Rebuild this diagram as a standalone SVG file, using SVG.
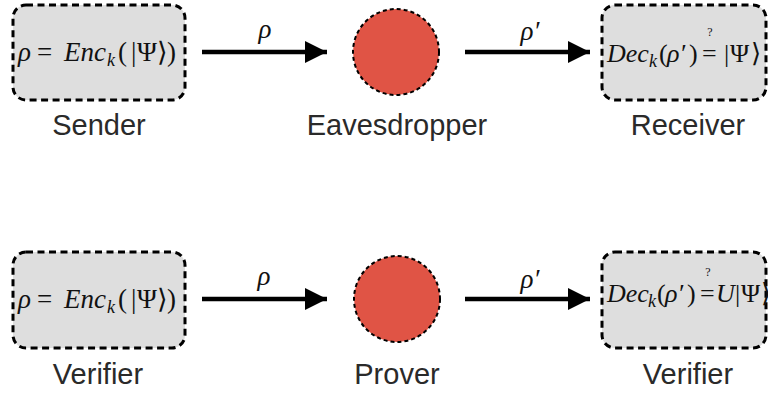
<svg xmlns="http://www.w3.org/2000/svg" width="768" height="393" viewBox="0 0 768 393">
<style>
.box{fill:#dedede;stroke:#000;stroke-width:3;stroke-dasharray:7 4.5}
.circ{fill:#e05445;stroke:#000;stroke-width:2;stroke-dasharray:4 3}
.lbl{font-family:"Liberation Sans","Helvetica",Arial,sans-serif;font-size:29px;fill:#2a2a2a;text-anchor:middle}
.m{font-family:"Liberation Serif","DejaVu Serif",serif;font-size:27px;fill:#111}
.mr{font-family:"Liberation Serif","DejaVu Serif",serif;font-size:26px;fill:#111}
.i{font-style:italic}
.sub{font-style:italic;font-size:18px}
.q{font-family:"Liberation Serif","DejaVu Serif",serif;font-size:12px;fill:#111;text-anchor:middle}
.arr{stroke:#000;stroke-width:4.5;fill:none}
</style>
<defs>
<marker id="ah" viewBox="0 0 10 10" refX="10" refY="5" markerWidth="5" markerHeight="5" markerUnits="strokeWidth" orient="auto">
<path d="M0,0 L10,5 L0,10 z" fill="#000"/>
</marker>
</defs>

<g id="connectors">
<line class="arr" x1="202" y1="52" x2="327" y2="52" marker-end="url(#ah)"/>
<text class="m i" x="265" y="38" text-anchor="middle">ρ</text>
<line class="arr" x1="465" y1="52" x2="590" y2="52" marker-end="url(#ah)"/>
<text class="m i" x="530" y="40" text-anchor="middle">ρ′</text>
<line class="arr" x1="202" y1="299" x2="327" y2="299" marker-end="url(#ah)"/>
<text class="m i" x="264" y="285" text-anchor="middle">ρ</text>
<line class="arr" x1="465" y1="299" x2="590" y2="299" marker-end="url(#ah)"/>
<text class="m i" x="530" y="288" text-anchor="middle">ρ′</text>
</g>

<g id="sender">
<rect class="box" x="13" y="5" width="172" height="95" rx="13"/>
<text class="m" y="61"><tspan class="i" x="18">ρ</tspan><tspan x="37">=</tspan><tspan class="i" x="64">Enc</tspan><tspan class="sub" x="107" dy="5">k</tspan><tspan x="118" dy="-5">(</tspan><tspan x="131">|</tspan><tspan x="137">Ψ</tspan><tspan x="157">⟩</tspan><tspan x="167">)</tspan></text>
<text class="lbl" x="99" y="135">Sender</text>
</g>

<g id="eavesdropper">
<circle class="circ" cx="396" cy="52" r="43"/>
<text class="lbl" x="397" y="135">Eavesdropper</text>
</g>

<g id="receiver">
<rect class="box" x="602" y="5" width="164" height="95" rx="13"/>
<text class="mr" y="62"><tspan class="i" x="607">Dec</tspan><tspan class="sub" x="649" dy="5">k</tspan><tspan x="659" dy="-5">(</tspan><tspan class="i" x="667">ρ′</tspan><tspan x="689">)</tspan><tspan x="702">=</tspan><tspan x="724">|</tspan><tspan x="730">Ψ</tspan><tspan x="751">⟩</tspan></text>
<text class="q" x="710" y="36">?</text>
<text class="lbl" x="688" y="135">Receiver</text>
</g>

<g id="verifier1">
<rect class="box" x="13" y="252" width="172" height="96" rx="13"/>
<text class="m" y="308"><tspan class="i" x="18">ρ</tspan><tspan x="37">=</tspan><tspan class="i" x="64">Enc</tspan><tspan class="sub" x="107" dy="5">k</tspan><tspan x="118" dy="-5">(</tspan><tspan x="131">|</tspan><tspan x="137">Ψ</tspan><tspan x="157">⟩</tspan><tspan x="167">)</tspan></text>
<text class="lbl" x="98" y="384">Verifier</text>
</g>

<g id="prover">
<circle class="circ" cx="397" cy="299" r="43"/>
<text class="lbl" x="397" y="384">Prover</text>
</g>

<g id="verifier2">
<rect class="box" x="602" y="252" width="164" height="96" rx="13"/>
<text class="mr" y="302" font-size="25"><tspan class="i" x="607">Dec</tspan><tspan class="sub" x="648" dy="5" font-size="17">k</tspan><tspan x="657" dy="-5">(</tspan><tspan class="i" x="665">ρ′</tspan><tspan x="687">)</tspan><tspan x="700">=</tspan><tspan class="i" x="716">U</tspan><tspan x="735">|</tspan><tspan x="741">Ψ</tspan><tspan x="761">⟩</tspan></text>
<text class="q" x="708" y="276">?</text>
<text class="lbl" x="688" y="384">Verifier</text>
</g>
</svg>
